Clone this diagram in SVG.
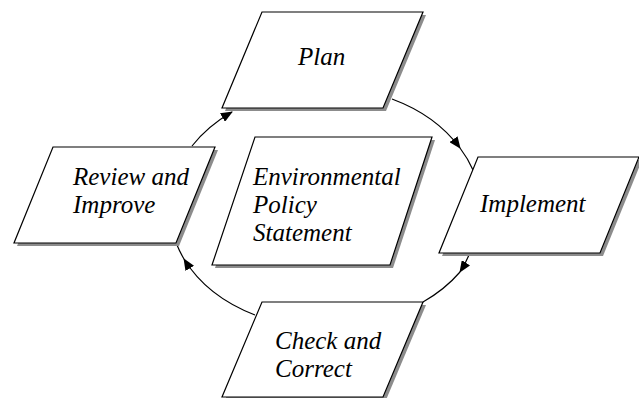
<svg xmlns="http://www.w3.org/2000/svg" width="639" height="398" viewBox="0 0 639 398">
<style>
.sh{fill:#8c8c8c;stroke:none}
.bx{fill:#fff;stroke:#000;stroke-width:1.2}
.t{font-family:'Liberation Serif','Times New Roman',serif;font-style:italic;font-size:25px;fill:#000}
.c{fill:none;stroke:#000;stroke-width:1.2}
</style>
<defs>
<marker id="ah" viewBox="0 0 12 10" refX="11" refY="5" markerWidth="12" markerHeight="10" markerUnits="userSpaceOnUse" orient="auto">
<path d="M0,0 L12,5 L0,10 Z" fill="#000"/>
</marker>
</defs>
<rect width="639" height="398" fill="#fff"/>
<g id="connectors">
<path class="c" d="M192,146 A156,120 0 0 1 232,112" marker-end="url(#ah)"/>
<path class="c" d="M392,99 A156,120 0 0 1 460,148" marker-end="url(#ah)"/>
<path class="c" d="M460,148 A156,120 0 0 1 473,170"/>
<path class="c" d="M469,255 A156,120 0 0 1 460,272" marker-end="url(#ah)"/>
<path class="c" d="M460,272 A156,120 0 0 1 423,302"/>
<path class="c" d="M255,315 A156,120 0 0 1 184,259" marker-end="url(#ah)"/>
<path class="c" d="M184,259 A156,120 0 0 1 177,245"/>
</g>
<g id="plan">
<polygon class="sh" points="265,15 426,15 386,111 225,111"/>
<polygon class="bx" points="262,12 423,12 383,108 222,108"/>
<text class="t" x="298" y="65">Plan</text>
</g>
<g id="implement">
<polygon class="sh" points="481,160 642,160 603,256 442,256"/>
<polygon class="bx" points="478,157 639,157 600,253 439,253"/>
<text class="t" x="480" y="212">Implement</text>
</g>
<g id="check">
<polygon class="sh" points="265,305 426,305 386,400 225,400"/>
<polygon class="bx" points="262,302 423,302 383,397 222,397"/>
<text class="t" x="275" y="349">Check and</text>
<text class="t" x="275" y="377">Correct</text>
</g>
<g id="review">
<polygon class="sh" points="56,150 218,150 179,246 17,246"/>
<polygon class="bx" points="53,147 215,147 176,243 14,243"/>
<text class="t" x="73" y="185">Review and</text>
<text class="t" x="73" y="213">Improve</text>
</g>
<g id="policy">
<polygon class="sh" points="258,140 435,140 393,268 215,268"/>
<polygon class="bx" points="255,137 432,137 390,265 212,265"/>
<text class="t" x="253" y="185">Environmental</text>
<text class="t" x="253" y="213">Policy</text>
<text class="t" x="253" y="241">Statement</text>
</g>
</svg>
